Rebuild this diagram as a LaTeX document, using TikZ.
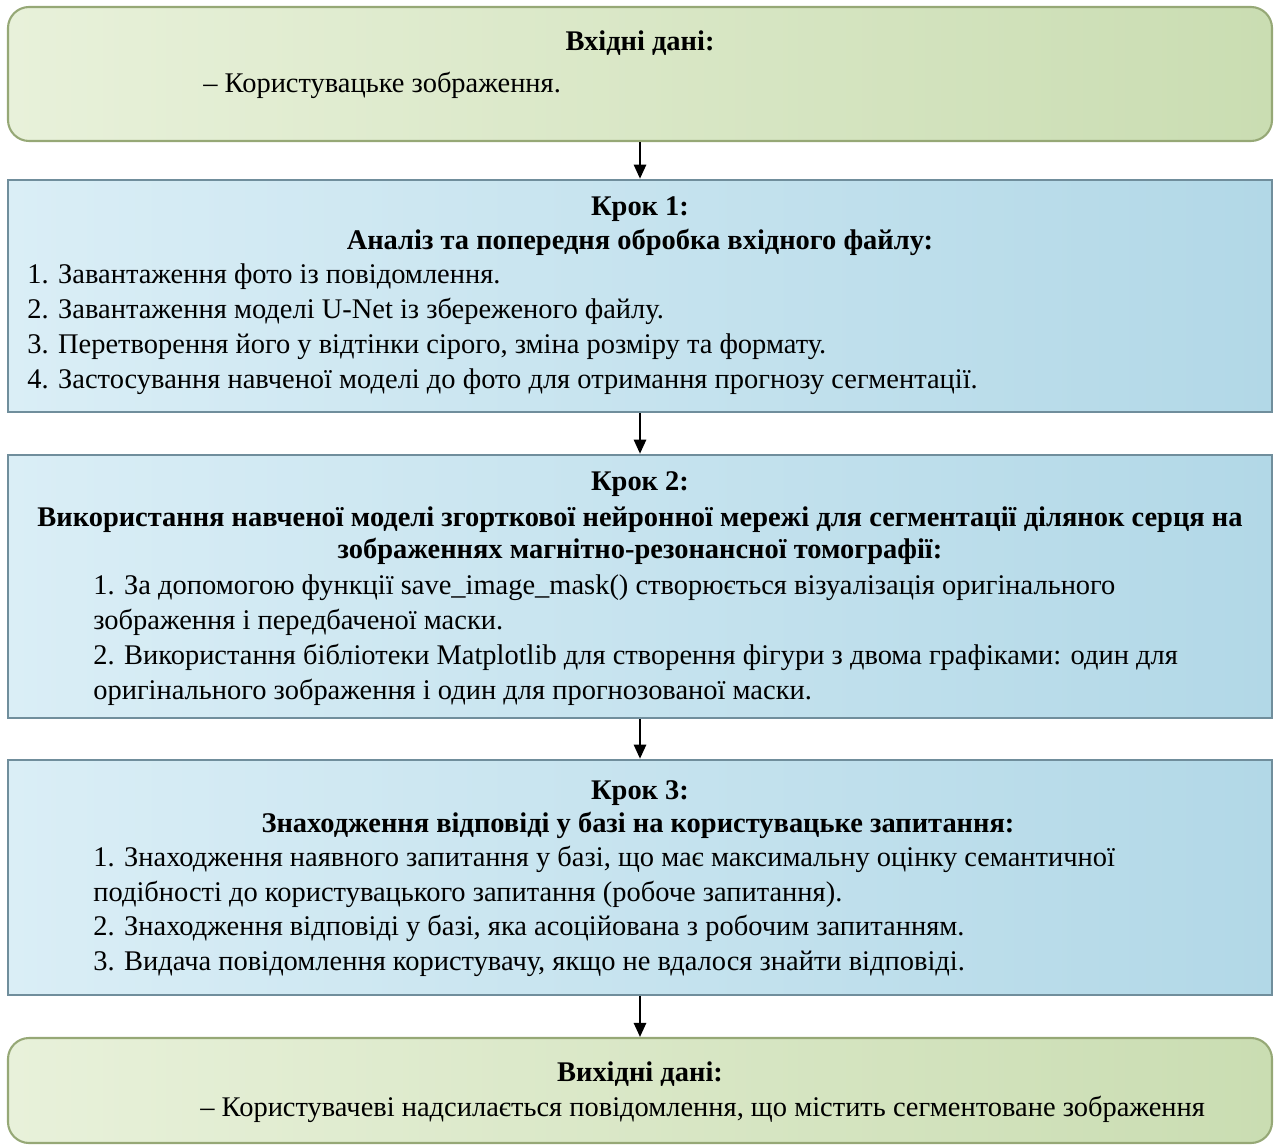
\documentclass[tikz,border=0pt]{standalone}
\usepackage{fontspec}
\setmainfont{Liberation Serif}
\usepackage{tikz}
\usetikzlibrary{positioning, fit, arrows.meta}

\definecolor{greenlight}{RGB}{232,241,218}
\definecolor{greendark}{RGB}{202,221,178}
\definecolor{greenedge}{RGB}{150,168,118}
\definecolor{bluelight}{RGB}{218,238,246}
\definecolor{bluedark}{RGB}{178,216,231}
\definecolor{blueedge}{RGB}{112,142,156}

\tikzset{
  inbox/.style={draw=greenedge, line width=1.2pt, rounded corners=12pt,
    left color=greenlight, right color=greendark, inner sep=0pt},
  stepbox/.style={draw=blueedge, line width=1.5pt,
    left color=bluelight, right color=bluedark, inner sep=0pt},
  head/.style={font=\fontsize{16.2}{19}\selectfont\bfseries, anchor=base, inner sep=0pt},
  item/.style={font=\fontsize{16.2}{19}\selectfont, anchor=base west, inner sep=0pt},
  flow/.style={-{Triangle[length=8pt, width=7pt]}, line width=1.1pt}
}

\begin{document}
\begin{tikzpicture}[x=0.02cm, y=-0.02cm]
    \useasboundingbox (0,0) rectangle (1275,1145);

    % boxes
    \node[inbox, fit={(8,7) (1272,141)}] (input) {};
    \node[stepbox, fit={(8,180) (1272,412)}] (step1) {};
    \node[stepbox, fit={(8,455) (1272,718)}] (step2) {};
    \node[stepbox, fit={(8,760) (1272,995)}] (step3) {};
    \node[inbox, fit={(8,1038) (1272,1143)}] (output) {};

    % arrows between boxes
    \draw[flow] (input.south) -- (step1.north);
    \draw[flow] (step1.south) -- (step2.north);
    \draw[flow] (step2.south) -- (step3.north);
    \draw[flow] (step3.south) -- (output.north);

    % input data
    \node[head] (inhead) at (640,51) {Вхідні дані:};
    \node[item] (in1) at (203,93) {– Користувацьке зображення.};

    % step 1
    \node[head] (s1a) at (640,216) {Крок 1:};
    \node[head] (s1b) at (640,250) {Аналіз та попередня обробка вхідного файлу:};
    \node[item] (s1i1) at (27,284) {1. Завантаження фото із повідомлення.};
    \node[item] (s1i2) at (27,319) {2. Завантаження моделі U-Net із збереженого файлу.};
    \node[item] (s1i3) at (27,354) {3. Перетворення його у відтінки сірого, зміна розміру та формату.};
    \node[item] (s1i4) at (27,389) {4. Застосування навченої моделі до фото для отримання прогнозу сегментації.};

    % step 2
    \node[head] (s2a) at (640,491) {Крок 2:};
    \node[head] (s2b) at (640,526) {Використання навченої моделі згорткової нейронної мережі для сегментації ділянок серця на};
    \node[head] (s2c) at (640,559) {зображеннях магнітно-резонансної томографії:};
    \node[item] (s2i1) at (93,594) {1. За допомогою функції save\_image\_mask() створюється візуалізація оригінального};
    \node[item] (s2i1b) at (93,629) {зображення і передбаченої маски.};
    \node[item] (s2i2) at (93,664) {2. Використання бібліотеки Matplotlib для створення фігури з двома графіками: один для};
    \node[item] (s2i2b) at (93,699) {оригінального зображення і один для прогнозованої маски.};

    % step 3
    \node[head] (s3a) at (640,799) {Крок 3:};
    \node[head] (s3b) at (638,832) {Знаходження відповіді у базі на користувацьке запитання:};
    \node[item] (s3i1) at (93,866) {1. Знаходження наявного запитання у базі, що має максимальну оцінку семантичної};
    \node[item] (s3i1b) at (93,901) {подібності до користувацького запитання (робоче запитання).};
    \node[item] (s3i2) at (93,935) {2. Знаходження відповіді у базі, яка асоційована з робочим запитанням.};
    \node[item] (s3i3) at (93,970) {3. Видача повідомлення користувачу, якщо не вдалося знайти відповіді.};

    % output data
    \node[head] (outhead) at (640,1081) {Вихідні дані:};
    \node[item] (out1) at (200,1116) {– Користувачеві надсилається повідомлення, що містить сегментоване зображення};
\end{tikzpicture}
\end{document}
